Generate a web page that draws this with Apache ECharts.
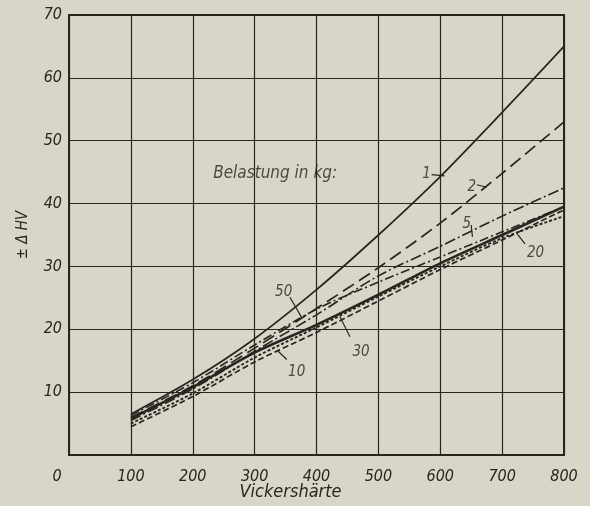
<!DOCTYPE html>
<html>
<head>
<meta charset="utf-8">
<script src="https://cdn.jsdelivr.net/npm/echarts@6/dist/echarts.min.js"></script>
<style>
html,body{margin:0;padding:0;background:#d7d6c8;}
#c{width:590px;height:506px;}
</style>
</head>
<body>
<div id="c"></div>
<script>
// Vickers hardness values (x)
const hardness = [100, 200, 300, 400, 500, 600, 700, 800];
// ± ΔHV for each load (kg)
const load1  = [6.5, 12.0, 18.5, 26.3, 35.0, 44.3, 54.5, 65.0];
const load2  = [6.0, 11.0, 17.0, 23.3, 29.8, 36.9, 44.8, 53.0];
const load5  = [5.5, 10.5, 16.5, 22.3, 28.5, 33.2, 38.0, 42.5];
const load10 = [4.5,  9.3, 14.8, 19.5, 24.5, 29.5, 34.2, 39.0];
const load20 = [5.0,  9.8, 15.5, 20.3, 25.2, 30.0, 34.5, 38.0];
const load30 = [5.8, 10.8, 16.3, 20.7, 25.5, 30.5, 35.0, 39.5];
const load50 = [6.3, 11.5, 17.5, 23.2, 27.5, 31.5, 35.5, 39.5];

const xTicks = [0, 100, 200, 300, 400, 500, 600, 700, 800];
const yTicks = [10, 20, 30, 40, 50, 60, 70];

// curve labels (text, anchor in data units) and their leader lines
const curveLabels = ['1', '2', '5', '10', '20', '30', '50'];
const curveLabelPos = [[578, 45.4], [651, 43.3], [643, 37.3], [368, 13.8], [754, 32.8], [472, 17.0], [347, 26.5]];
const leaderLines = [
  [[586, 44.6], [607, 44.4]],
  [[659, 43.0], [675, 42.6]],
  [[650, 36.6], [652, 34.7]],
  [[352, 15.2], [338, 16.5]],
  [[737, 33.6], [724, 35.2]],
  [[454, 18.8], [438, 22.0]],
  [[357, 25.1], [376, 21.9]]
];
const headerText = 'Belastung in kg:';
const headerPos = [233, 45.4];

const FONT = "'DejaVu Sans Condensed', 'DejaVu Sans', sans-serif";
const INK = '#26261f';

function mk(vals) { return hardness.map((h, i) => [h, vals[i]]); }
function lineSeries(name, vals, type, width) {
  return {
    name: name, type: 'line', data: mk(vals), symbol: 'none', smooth: 0.3,
    lineStyle: { color: INK, width: width, type: type }, z: 5
  };
}

const chart = echarts.init(document.getElementById('c'), null, { renderer: 'canvas' });
chart.setOption({
  backgroundColor: '#d7d6c8',
  animation: false,
  grid: { left: 69, right: 26, top: 15, bottom: 51, show: true, borderColor: INK, borderWidth: 2,
          containLabel: false, outerBoundsMode: 'none' },
  xAxis: {
    type: 'value', min: 0, max: 800, interval: 100,
    name: 'Vickershärte', nameLocation: 'middle', nameGap: 28, nameMoveOverlap: false,
    nameTextStyle: { fontFamily: FONT, fontStyle: 'italic', fontSize: 18, color: INK, padding: [0, 52, 0, 0] },
    axisLine: { show: true, lineStyle: { color: INK, width: 2 } },
    axisTick: { show: false },
    splitLine: { show: true, lineStyle: { color: INK, width: 1.2 } },
    axisLabel: {
      margin: 14, fontFamily: FONT, fontStyle: 'italic', fontSize: 16, color: INK,
      formatter: v => xTicks.indexOf(v) < 0 ? '' : (v === 0 ? '{z|0}' : String(v)),
      rich: { z: { fontFamily: FONT, fontStyle: 'italic', fontSize: 16, color: INK, padding: [0, 24, 0, 0] } }
    }
  },
  yAxis: {
    type: 'value', min: 0, max: 70, interval: 10,
    name: '± Δ HV', nameLocation: 'middle', nameGap: 38, nameRotate: 90, nameMoveOverlap: false,
    nameTextStyle: { fontFamily: FONT, fontStyle: 'italic', fontSize: 15, color: INK },
    axisLine: { show: true, lineStyle: { color: INK, width: 2 } },
    axisTick: { show: false },
    splitLine: { show: true, lineStyle: { color: INK, width: 1.2 } },
    axisLabel: {
      margin: 7, fontFamily: FONT, fontStyle: 'italic', fontSize: 16, color: INK,
      formatter: v => yTicks.indexOf(v) < 0 ? '' : String(v)
    }
  },
  series: [
    lineSeries('1', load1, 'solid', 1.7),
    lineSeries('2', load2, [13, 6], 1.7),
    lineSeries('5', load5, [11, 3, 2, 3], 1.6),
    lineSeries('10', load10, [6, 3], 1.7),
    lineSeries('20', load20, [3, 2], 1.9),
    lineSeries('30', load30, 'solid', 2.5),
    lineSeries('50', load50, [9, 3, 2, 3], 1.6),
    {
      type: 'lines', coordinateSystem: 'cartesian2d', polyline: false, silent: true,
      data: leaderLines.map(c => ({ coords: c })),
      lineStyle: { color: INK, width: 1.2, opacity: 1 }, z: 6
    },
    {
      type: 'scatter', symbolSize: 0, silent: true, z: 7,
      data: curveLabelPos.map((p, i) => ({ value: p, name: curveLabels[i] })),
      label: { show: true, position: 'inside', offset: [0, 4], formatter: p => p.name,
        fontFamily: FONT, fontStyle: 'italic', fontSize: 15, color: INK }
    },
    {
      type: 'scatter', symbolSize: 0, silent: true, z: 7,
      data: [{ value: headerPos, name: headerText }],
      label: { show: true, position: 'right', distance: 0, offset: [0, 4], formatter: p => p.name,
        fontFamily: FONT, fontStyle: 'italic', fontSize: 17, color: INK }
    }
  ]
});
</script>
</body>
</html>
